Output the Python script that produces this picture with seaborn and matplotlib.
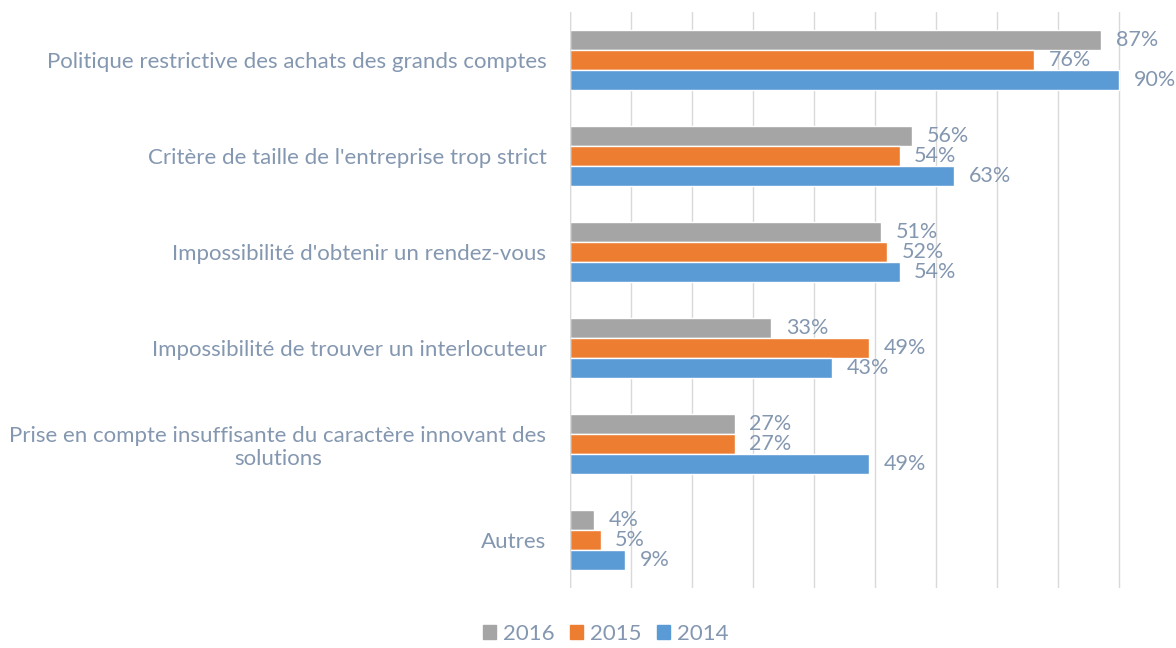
import numpy as np
import pandas as pd
import matplotlib.pyplot as plt
import seaborn as sns

categories = [
    "Politique restrictive des achats des grands comptes",
    "Critère de taille de l'entreprise trop strict",
    "Impossibilité d'obtenir un rendez-vous",
    "Impossibilité de trouver un interlocuteur",
    "Prise en compte insuffisante du caractère innovant des\nsolutions",
    "Autres",
]
years = ["2016", "2015", "2014"]
vals_2016 = [87, 56, 51, 33, 27, 4]
vals_2015 = [76, 54, 52, 49, 27, 5]
vals_2014 = [90, 63, 54, 43, 49, 9]

colors = {"2016": "#A5A5A5", "2015": "#ED7D31", "2014": "#5B9BD5"}
text_color = "#8497B0"
fs = 16

df = pd.DataFrame({
    "cat": categories * 3,
    "year": ["2016"] * 6 + ["2015"] * 6 + ["2014"] * 6,
    "val": vals_2016 + vals_2015 + vals_2014,
})

sns.set_style("white")
plt.rcParams["font.family"] = ["Lato", "DejaVu Sans"]

fig = plt.figure(figsize=(11.76, 6.48), dpi=100)
ax = fig.add_axes([570 / 1176, 60 / 648, 606 / 1176, 576 / 648])

sns.barplot(data=df, y="cat", x="val", hue="year", hue_order=years,
            order=categories, palette=colors, orient="h", width=0.625,
            saturation=1, ax=ax, legend=False)

ax.set_xlim(0, 99.3)
ax.set_xticks(np.arange(0, 100, 10))
ax.set_xticklabels([])
ax.grid(axis="x", color="#D9D9D9", lw=1)
ax.set_axisbelow(True)
for s in ax.spines.values():
    s.set_visible(False)
ax.axvline(0, color="#D9D9D9", lw=1)
ax.set_xlabel("")
ax.set_ylabel("")

ax.set_yticks(range(len(categories)))
ax.set_yticklabels(categories, multialignment="center")
ax.tick_params(axis="both", length=0)
ax.tick_params(axis="y", pad=17, labelsize=fs, labelcolor=text_color)

for cont in ax.containers:
    ax.bar_label(cont, fmt="%d%%", padding=10.5, color=text_color, fontsize=15.5)

handles = [plt.Rectangle((0, 0), 1, 1, color=colors[y]) for y in years]
fig.legend(handles, years, loc="lower center", bbox_to_anchor=(0.515, -0.025),
           ncol=3, frameon=False, fontsize=fs, labelcolor=text_color,
           handlelength=0.6, handleheight=0.6, handletextpad=0.3,
           columnspacing=0.7)

fig.savefig("out.png", dpi=100)
